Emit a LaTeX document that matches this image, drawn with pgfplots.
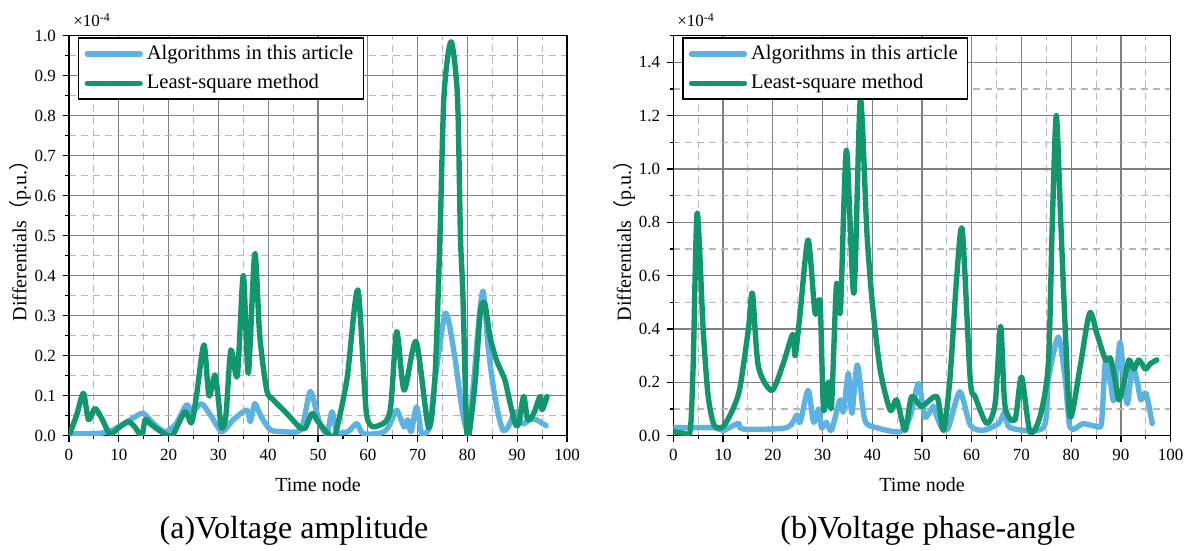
\documentclass[border=0pt]{standalone}
\usepackage{fontspec}
\setmainfont{Liberation Serif}
\newfontfamily\cjk{Noto Sans CJK SC}
\usepackage{pgfplots}
\pgfplotsset{compat=1.18}

\definecolor{myblue}{RGB}{92,178,226}
\definecolor{mygreen}{RGB}{18,150,110}

\pgfplotsset{
 mystyle/.style={
  scale only axis, width=249pt, height=200pt,
  xmin=0, xmax=100, ymin=0,
  xtick distance=10, minor x tick num=1, minor y tick num=1,
  grid=both,
  major grid style={draw=black!50, line width=0.65pt},
  minor grid style={draw=black!28, line width=0.55pt, dash pattern=on 3.5pt off 2.5pt},
  axis line style={line width=0.75pt, black},
  tick pos=left, tick align=outside,
  major tick length=3pt, minor tick length=1.8pt,
  every tick/.style={black, line width=0.6pt},
  tick label style={font=\fontsize{8.5}{10}\selectfont},
  /pgf/number format/assume math mode=true,
  yticklabel style={/pgf/number format/fixed, /pgf/number format/fixed zerofill, /pgf/number format/precision=1},
  scaled y ticks=false,
  xlabel={Time node}, ylabel={Differentials{\cjk （}p.u.{\cjk ）}},
  label style={font=\fontsize{10}{12}\selectfont},
  every axis x label/.style={at={(axis description cs:0.5,-0.123)}, anchor=center},
  every axis y label/.style={at={(axis description cs:-0.0984,0.5)}, rotate=90, anchor=center},
  legend style={at={(0,1)}, anchor=north west, xshift=4.5pt, yshift=-0.9pt, draw=black, line width=0.6pt, font=\fontsize{10.3}{12}\selectfont, cells={anchor=west}, inner xsep=3pt, inner ysep=1.6pt, row sep=2pt},
  legend image code/.code={\draw[#1, line width=2.6pt] (0pt,0pt) -- (26.5pt,0pt);},
  every axis plot/.append style={line width=2.7pt, line join=round, line cap=round, smooth, tension=0.45},
 }
}

\begin{document}
\begin{tikzpicture}
\path[use as bounding box] (0,0) rectangle (592pt,275.5pt);

\begin{axis}[mystyle, at={(34.5pt,57.65pt)}, anchor=south west, ymax=1.0, ytick distance=0.1]
\addplot[myblue] coordinates {
(0,0.005) (5,0.005) (8,0.01) (11,0.03) (13,0.045) (14.9,0.056) (17,0.03) (19.3,0.01) (21.5,0.03) (23.6,0.077) (24.8,0.06) (26.6,0.08) (28.5,0.05) (30.7,0.01) (33,0.04) (35.7,0.064) (36.4,0.035) (37.3,0.08) (38.5,0.05) (40.4,0.015) (43,0.01) (46,0.01) (47,0.03) (48.4,0.11) (49.5,0.07) (50.4,0.03) (51.8,0.005) (52.8,0.06) (53.8,0.01) (56,0.01) (57.8,0.03) (59.1,0.005) (63,0.008) (64.5,0.03) (65.8,0.064) (67.3,0.022) (68,0.04) (68.7,0.01) (69.8,0.072) (70.8,0.006) (71.9,0.01) (72.5,0.03) (73.7,0.157) (75.6,0.306) (77.3,0.21) (79,0.06) (80,0.017) (81,0.1) (82.4,0.3) (83.2,0.36) (84.1,0.23) (85.1,0.13) (86.1,0.06) (87.1,0.014) (88.1,0.02) (89.7,0.06) (91.1,0.03) (92.5,0.04) (93.8,0.04) (95.8,0.025)
};
\addlegendentry{Algorithms in this article}
\addplot[mygreen] coordinates {
(0,0.0) (1.5,0.05) (2.9,0.106) (3.9,0.04) (5.2,0.068) (6.5,0.045) (8.2,0.005) (10,0.02) (11.9,0.035) (13.2,0.022) (14.6,0.0) (15.3,0.04) (16.3,0.03) (17.9,0.015) (19.9,0.0) (21,0.005) (23.3,0.06) (24.6,0.032) (25.6,0.1) (27.1,0.227) (28.1,0.1) (29.3,0.152) (30.0,0.09) (30.6,0.02) (31.5,0.05) (32.5,0.214) (33.8,0.15) (35.0,0.40) (36.0,0.156) (37.3,0.455) (38.3,0.25) (39.7,0.114) (41,0.09) (43.7,0.056) (46.4,0.02) (47.5,0.02) (48.8,0.056) (50,0.035) (52.4,0.0) (53.4,0.0) (55.8,0.14) (58,0.364) (59.8,0.05) (62.5,0.027) (64.5,0.064) (65.8,0.26) (67.3,0.114) (69.7,0.235) (72.2,0.02) (73.5,0.15) (74.5,0.5) (75.3,0.85) (76.7,0.985) (78,0.85) (78.6,0.5) (79.1,0.35) (79.8,0.03) (80.3,0.0) (81.6,0.14) (82.6,0.31) (83.5,0.33) (84.5,0.25) (85.8,0.19) (87.5,0.14) (88.6,0.08) (89.6,0.03) (90.3,0.03) (91.3,0.098) (92.1,0.04) (93.3,0.055) (94.6,0.098) (95,0.065) (96,0.098)
};
\addlegendentry{Least-square method}
\end{axis}

\begin{axis}[mystyle, at={(336.65pt,57.65pt)}, anchor=south west, width=248.7pt, ymax=1.5, ytick distance=0.2]
\addplot[myblue] coordinates {
(0,0.03) (8,0.03) (10,0.02) (13.1,0.046) (14,0.025) (22.8,0.03) (24.8,0.077) (25.5,0.05) (27.1,0.17) (28.2,0.05) (29.2,0.1) (29.8,0.03) (30.8,0.05) (31.8,0.02) (33.5,0.134) (34.2,0.09) (35.2,0.234) (35.9,0.084) (37,0.265) (38.5,0.06) (40.9,0.03) (45.6,0.015) (47.6,0.07) (49.3,0.196) (50.6,0.07) (52.3,0.11) (53,0.07) (54,0.03) (55.3,0.03) (57.6,0.165) (59.7,0.04) (62.3,0.02) (65.4,0.046) (66.7,0.09) (67.7,0.03) (74.4,0.03) (75.4,0.21) (77.4,0.37) (78.8,0.21) (79.8,0.03) (82.4,0.045) (85.1,0.035) (86.1,0.05) (86.9,0.284) (87.9,0.2) (88.6,0.134) (89.8,0.35) (90.6,0.2) (91.3,0.12) (92.3,0.26) (93.3,0.2) (94,0.134) (95,0.16) (96.3,0.045)
};
\addlegendentry{Algorithms in this article}
\addplot[mygreen] coordinates {
(0,0.015) (2,0.01) (3.4,0.02) (4.0,0.27) (4.8,0.835) (6.0,0.4) (7,0.15) (8.2,0.04) (10,0.034) (12,0.1) (13.4,0.18) (15.1,0.4) (15.9,0.534) (17.1,0.26) (19.8,0.17) (22.1,0.27) (24,0.38) (24.5,0.3) (25.5,0.46) (27.1,0.734) (28.5,0.46) (29.5,0.5) (30.2,0.1) (31.2,0.2) (31.8,0.11) (32.8,0.565) (33.6,0.47) (34.8,1.07) (36.3,0.534) (37.6,1.26) (38.9,0.77) (40,0.5) (41.6,0.246) (43.6,0.096) (44.9,0.134) (46.6,0.02) (47.9,0.146) (49.9,0.11) (53,0.146) (54.3,0.02) (55.6,0.21) (57,0.6) (58.1,0.77) (59.7,0.21) (60.7,0.146) (63,0.046) (64.7,0.12) (65.8,0.41) (66.7,0.11) (68.7,0.06) (70.0,0.22) (71.7,0.015) (73.7,0.07) (75.4,0.27) (76.2,0.8) (77,1.2) (77.9,0.8) (78.8,0.4) (79.8,0.07) (81.8,0.26) (83.7,0.46) (85.2,0.38) (86.9,0.284) (87.9,0.29) (88.9,0.2) (89.6,0.134) (90.6,0.2) (91.6,0.284) (92.6,0.25) (93.6,0.284) (94.9,0.25) (95.9,0.27) (97.2,0.284)
};
\addlegendentry{Least-square method}
\end{axis}

\node[font=\fontsize{8.5}{10}\selectfont, anchor=west, inner sep=0pt] at (36.5pt,265.5pt) {×10\textsuperscript{-4}};
\node[font=\fontsize{8.5}{10}\selectfont, anchor=west, inner sep=0pt] at (338.5pt,265.5pt) {×10\textsuperscript{-4}};
\node[font=\fontsize{16}{18}\selectfont, inner sep=0pt] at (147pt,10.2pt) {(a)Voltage amplitude};
\node[font=\fontsize{16}{18}\selectfont, inner sep=0pt] at (464pt,10.2pt) {(b)Voltage phase-angle};
\end{tikzpicture}
\end{document}
